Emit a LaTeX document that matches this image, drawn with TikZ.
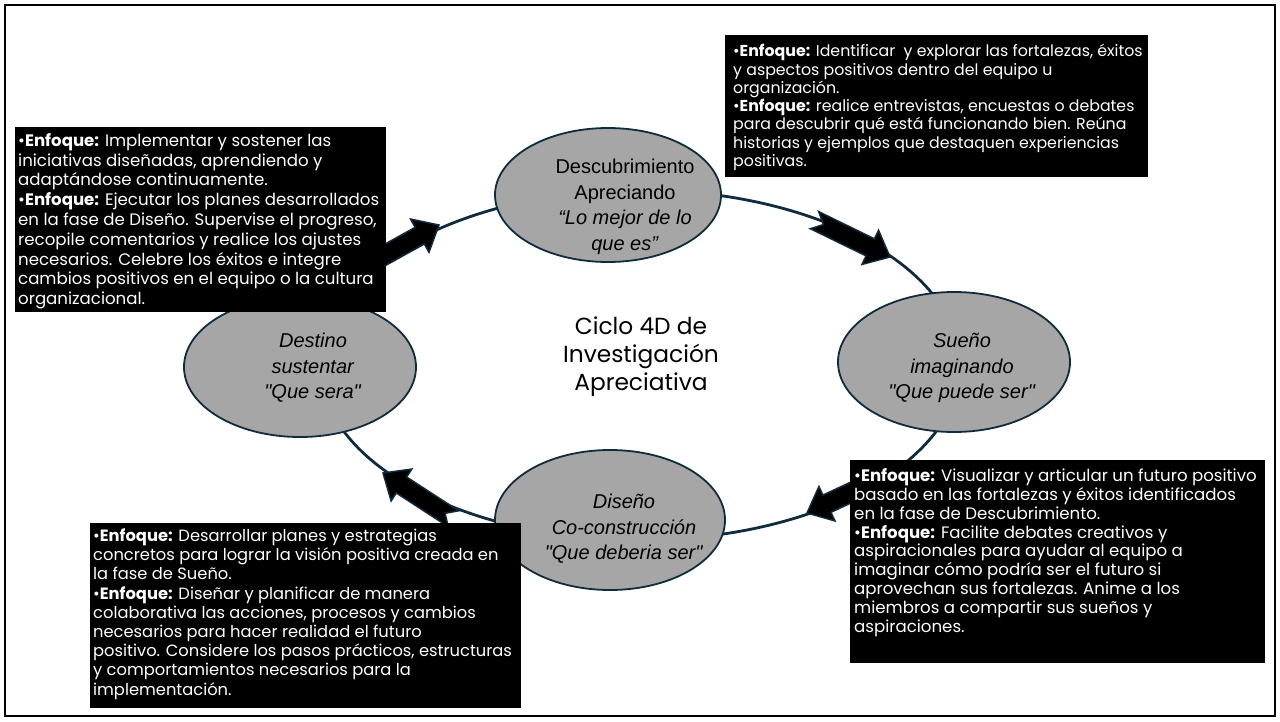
\documentclass[tikz,border=0pt]{standalone}
\usepackage{fontspec}
\usetikzlibrary{shapes.geometric}
\newfontfamily\popfont{Poppins}
\newfontfamily\arialfont{Liberation Sans}
\definecolor{navy}{HTML}{0F2B3C}
\definecolor{ovalgray}{HTML}{A6A6A6}
% invisible strut fixing the height of the first line of each panel
\newcommand{\panelstrut}{\rule{0pt}{13.5pt}}
\newcommand{\enf}{•\textbf{Enfoque:}}

\begin{document}
\begin{tikzpicture}[x=1pt,y=-1pt,
  oval/.style={ellipse, draw=navy, line width=1.8pt, fill=ovalgray, inner sep=0pt},
  ovaltext/.style={font=\arialfont\fontsize{20}{25.5}\selectfont, align=center, text=black, inner sep=0pt},
  titletext/.style={font=\popfont\fontsize{23.3}{28}\selectfont, align=center, text=black, inner sep=0pt},
  panel/.style={fill=black, draw=none, anchor=north west, inner sep=0pt},
  paneltext/.style={text=white, align=left, anchor=north west, inner sep=0pt},
  cycleline/.style={draw=navy, line width=2.8pt},
  blockarrow/.pic={\filldraw[fill=black, draw=navy, line width=1.5pt, line join=miter]
    (0,0) -- (-22,19) -- (-22,9.5) -- (-84,9.5) -- (-74,0) -- (-84,-9.5) -- (-22,-9.5) -- (-22,-19) -- cycle;}
]
\useasboundingbox (0,0) rectangle (1280,721);
\draw[black, line width=1.6pt] (5,5) rectangle (1275,716);

% the cycle path
\coordinate (hub) at (640,365);
\draw[cycleline] (hub) ellipse [x radius=320pt, y radius=175pt];

% block arrows on the cycle
\coordinate (t1) at (439,225);
\coordinate (t2) at (890,257);
\coordinate (t3) at (807,513);
\coordinate (t4) at (383,473);
\pic[rotate=29] at (t1) {blockarrow};
\pic[rotate=-26] at (t2) {blockarrow};
\pic[rotate=205] at (t3) {blockarrow};
\pic[rotate=147] at (t4) {blockarrow};

% the four phases
\node[oval, minimum width=226pt, minimum height=134pt] (disc) at (608,195) {};
\node[oval, minimum width=232pt, minimum height=140pt] (dream) at (954,362) {};
\node[oval, minimum width=232pt, minimum height=140pt] (destiny) at (300,367) {};
\node[oval, minimum width=230pt, minimum height=140pt] (design) at (610,520) {};

\node[ovaltext] (disctext) at (625,207) {Descubrimiento\\Apreciando\\\textit{“Lo mejor de lo}\\\textit{que es”}};
\node[ovaltext] (dreamtext) at (962,368) {\textit{Sueño}\\\textit{imaginando}\\\textit{"Que puede ser"}};
\node[ovaltext] (destinytext) at (313,368) {\textit{Destino}\\\textit{sustentar}\\\textit{"Que sera"}};
\node[ovaltext] (designtext) at (624,529) {\textit{Diseño}\\\textit{Co-construcción}\\\textit{"Que deberia ser"}};

\node[titletext] (title) at (641,357) {Ciclo 4D de\\Investigación\\Apreciativa};

% description panels
\node[panel, minimum width=423pt, minimum height=142pt] (p1) at (725,35) {};
\node[paneltext, font=\popfont\fontsize{15.8}{18.3}\selectfont] (p1text) at (733,43) {\panelstrut\enf{} Identificar \ y explorar las fortalezas, éxitos\\
y aspectos positivos dentro del equipo u\\
organización.\\
\enf{} realice entrevistas, encuestas o debates\\
para descubrir qué está funcionando bien. Reúna\\
historias y ejemplos que destaquen experiencias\\
positivas.};

\node[panel, minimum width=371pt, minimum height=185pt] (p2) at (15,127) {};
\node[paneltext, font=\popfont\fontsize{16.6}{19.8}\selectfont] (p2text) at (18,132.6) {\panelstrut\enf{} Implementar y sostener las\\
iniciativas diseñadas, aprendiendo y\\
adaptándose continuamente.\\
\enf{} Ejecutar los planes desarrollados\\
en la fase de Diseño. Supervise el progreso,\\
recopile comentarios y realice los ajustes\\
necesarios. Celebre los éxitos e integre\\
cambios positivos en el equipo o la cultura\\
organizacional.};

\node[panel, minimum width=415pt, minimum height=203pt] (p3) at (850,460) {};
\node[paneltext, font=\popfont\fontsize{16.6}{18.9}\selectfont] (p3text) at (854,467.6) {\panelstrut\enf{} Visualizar y articular un futuro positivo\\
basado en las fortalezas y éxitos identificados\\
en la fase de Descubrimiento.\\
\enf{} Facilite debates creativos y\\
aspiracionales para ayudar al equipo a\\
imaginar cómo podría ser el futuro si\\
aprovechan sus fortalezas. Anime a los\\
miembros a compartir sus sueños y\\
aspiraciones.};

\node[panel, minimum width=431pt, minimum height=185pt] (p4) at (90,523) {};
\node[paneltext, font=\popfont\fontsize{16.3}{19.2}\selectfont] (p4text) at (93,527.8) {\panelstrut\enf{} Desarrollar planes y estrategias\\
concretos para lograr la visión positiva creada en\\
la fase de Sueño.\\
\enf{} Diseñar y planificar de manera\\
colaborativa las acciones, procesos y cambios\\
necesarios para hacer realidad el futuro\\
positivo. Considere los pasos prácticos, estructuras\\
y comportamientos necesarios para la\\
implementación.};
\end{tikzpicture}
\end{document}
